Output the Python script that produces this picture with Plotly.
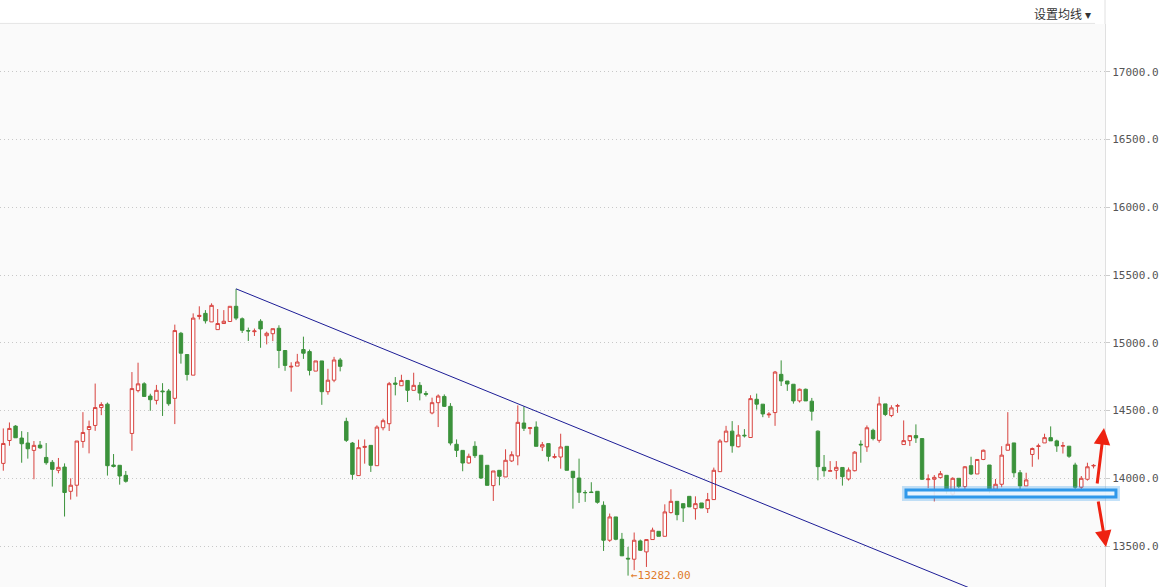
import plotly.graph_objects as go

# daily candles (index = trading day)
open_ = [14110, 14279, 14385, 14297, 14260, 14206, 14245, 14154, 14118, 14059,
         14083, 13904, 13949, 14272, 14360, 14390, 14522, 14547, 14098, 14096,
         14022, 14331, 14647, 14697, 14607, 14575, 14644, 14644, 14590, 15070,
         14913, 14761, 15194, 15217, 15154, 15097, 15142, 15157, 15269, 15177,
         15090, 15082, 15159, 15052, 15067, 15107, 14943, 14821, 14828, 14950,
         14935, 14791, 14866, 14639, 14724, 14873, 14420, 14260, 14020, 14228,
         14243, 14093, 14373, 14403, 14703, 14683, 14722, 14649, 14686, 14626,
         14482, 14558, 14604, 14531, 14251, 14206, 14113, 14236, 14170, 14096,
         13946, 14059, 14010, 14128, 14165, 14408, 14368, 14378, 14231, 14256,
         14155, 14157, 14236, 14052, 14002, 13895, 13899, 13904, 13801, 13543,
         13715, 13550, 13410, 13403, 13538, 13457, 13548, 13609, 13572, 13747,
         13830, 13813, 13867, 13776, 13818, 13776, 13843, 14049, 14270, 14348,
         14233, 14318, 14301, 14583, 14547, 14468, 14485, 14767, 14718, 14694,
         14571, 14657, 14569, 14348, 14081, 14052, 14059, 14080, 13995, 14056,
         14251, 14232, 14354, 14280, 14549, 14463, 14532, 14249, 14278, 14315,
         14293, 13990, 13993, 14005, 14022, 13883, 14000, 13939, 14093, 14032,
         14139, 14098, 13920, 13956, 14207, 14261, 14041, 13944, 14176, 14235,
         14261, 14300, 14276, 14237, 14237, 14098, 13934, 13993, 14091]
high = [14368, 14412, 14392, 14348, 14341, 14275, 14275, 14260, 14135, 14150,
        14110, 14000, 14275, 14488, 14426, 14699, 14561, 14559, 14179, 14096,
        14054, 14784, 14853, 14709, 14624, 14689, 14702, 14659, 15134, 15080,
        14913, 15217, 15269, 15241, 15291, 15249, 15241, 15269, 15398, 15187,
        15112, 15105, 15174, 15082, 15104, 15129, 14943, 14856, 14918, 15045,
        14950, 14866, 14866, 14808, 14896, 14888, 14447, 14268, 14285, 14287,
        14243, 14391, 14440, 14711, 14747, 14764, 14722, 14779, 14710, 14644,
        14595, 14619, 14619, 14555, 14287, 14206, 14182, 14273, 14170, 14096,
        14054, 14059, 14214, 14199, 14538, 14531, 14378, 14420, 14268, 14256,
        14182, 14329, 14236, 14052, 14145, 13912, 13971, 13904, 13830, 13740,
        13715, 13597, 13494, 13600, 13548, 13548, 13636, 13609, 13808, 13919,
        13830, 13813, 13867, 13867, 13818, 13892, 14079, 14289, 14387, 14422,
        14392, 14363, 14613, 14625, 14547, 14488, 14792, 14870, 14718, 14694,
        14662, 14662, 14593, 14353, 14172, 14127, 14127, 14080, 14080, 14200,
        14280, 14390, 14366, 14602, 14549, 14539, 14549, 14427, 14315, 14398,
        14293, 14029, 14024, 14054, 14022, 14007, 14000, 14090, 14159, 14139,
        14212, 14098, 13995, 14237, 14488, 14261, 14061, 14041, 14227, 14256,
        14329, 14383, 14285, 14268, 14237, 14115, 14017, 14115, 14105]
low = [14056, 14240, 14299, 14115, 14145, 13993, 14218, 14100, 13939, 14037,
       13718, 13843, 13865, 14225, 14184, 14350, 14466, 14020, 14080, 13953,
       13968, 14203, 14634, 14604, 14498, 14545, 14460, 14535, 14400, 14846,
       14721, 14761, 15172, 15142, 15154, 15097, 15142, 15157, 15167, 15072,
       15013, 15050, 14963, 14988, 15012, 14813, 14793, 14639, 14828, 14881,
       14759, 14791, 14542, 14617, 14709, 14789, 14268, 13990, 14020, 14108,
       14047, 14093, 14354, 14349, 14612, 14683, 14563, 14649, 14575, 14604,
       14472, 14378, 14526, 14243, 14157, 14052, 14108, 14150, 13995, 13948,
       13833, 13948, 14010, 14120, 14096, 14349, 14324, 14236, 14201, 14125,
       14145, 14071, 14059, 13776, 13818, 13826, 13895, 13813, 13464, 13531,
       13543, 13428, 13282, 13322, 13464, 13346, 13548, 13572, 13572, 13740,
       13690, 13678, 13789, 13695, 13781, 13744, 13843, 14049, 14265, 14189,
       14228, 14301, 14301, 14507, 14451, 14446, 14387, 14681, 14645, 14551,
       14559, 14571, 14426, 13985, 14012, 14052, 13993, 13946, 13983, 14051,
       14115, 14195, 14280, 14263, 14459, 14451, 14483, 14249, 14239, 14261,
       13988, 13927, 13829, 14000, 13885, 13871, 13927, 13920, 14024, 14032,
       14134, 13890, 13902, 13934, 14207, 14007, 13920, 13944, 14085, 14139,
       14261, 14276, 14195, 14183, 14151, 13920, 13920, 13983, 14073]
close = [14257, 14368, 14299, 14255, 14218, 14243, 14225, 14115, 14066, 14081,
         13895, 13949, 14275, 14338, 14382, 14522, 14544, 14093, 14088, 14017,
         13978, 14662, 14697, 14604, 14580, 14649, 14639, 14550, 15090, 14923,
         14766, 15182, 15202, 15162, 15276, 15142, 15159, 15269, 15182, 15092,
         15087, 15087, 15102, 15070, 15104, 14943, 14833, 14826, 14858, 14923,
         14796, 14866, 14639, 14724, 14873, 14826, 14280, 14029, 14226, 14235,
         14096, 14378, 14425, 14698, 14694, 14722, 14649, 14686, 14629, 14620,
         14558, 14607, 14531, 14260, 14206, 14113, 14162, 14167, 14002, 13948,
         14054, 14015, 14133, 14174, 14413, 14369, 14373, 14236, 14248, 14162,
         14160, 14231, 14059, 14005, 13897, 13894, 13895, 13823, 13543, 13715,
         13550, 13428, 13405, 13543, 13469, 13548, 13617, 13572, 13752, 13830,
         13732, 13781, 13789, 13813, 13781, 13843, 14059, 14275, 14348, 14240,
         14319, 14314, 14588, 14547, 14475, 14473, 14784, 14718, 14696, 14571,
         14657, 14571, 14495, 14086, 14056, 14056, 14081, 14012, 14061, 14193,
         14247, 14373, 14293, 14549, 14471, 14520, 14536, 14278, 14315, 14298,
         13993, 13995, 14007, 14034, 13907, 14000, 13939, 14085, 14032, 14139,
         14207, 13910, 13956, 14171, 14251, 14041, 13944, 13988, 14220, 14239,
         14300, 14276, 14239, 14241, 14163, 13934, 14000, 14085, 14095]
days = list(range(len(close)))

# hand drawn trend line (from the 15398 top, running down to the right)
trend_x = [38, 178]
trend_y = [15398, 12818]

low_day = 102
low_label = "←13282.00"
y_ticks = [13500, 14000, 14500, 15000, 15500, 16000, 16500, 17000]

red = "#d8433f"
green = "#3b923b"

fig = go.Figure()
fig.add_trace(go.Candlestick(
    x=days, open=open_, high=high, low=low, close=close,
    increasing=dict(line=dict(color=red, width=1), fillcolor="#ffffff"),
    decreasing=dict(line=dict(color=green, width=1), fillcolor=green),
    whiskerwidth=0, showlegend=False, hoverinfo="skip"))
fig.add_trace(go.Scatter(x=trend_x, y=trend_y, mode="lines",
                         line=dict(color="#1c1c96", width=1),
                         showlegend=False, hoverinfo="skip"))

fig.add_annotation(x=low_day, y=min(low), text=low_label, showarrow=False,
                   xanchor="left", yanchor="middle", xshift=1,
                   font=dict(family="DejaVu Sans Mono", size=11, color="#e07a2a"))
fig.add_annotation(xref="paper", yref="paper", x=0.989, y=1.0195,
                   text="设置均线 ▾", showarrow=False, xanchor="right", yanchor="middle",
                   font=dict(family="Noto Sans CJK SC", size=12, color="#333333"))

# red arrows (up / down) next to the support box
fig.add_annotation(xref="paper", yref="paper", x=0.9991, y=0.2824, ax=-7, ay=57,
                   text="", showarrow=True, arrowhead=2, arrowsize=1.1,
                   arrowwidth=3, arrowcolor="#ee2211")
fig.add_annotation(xref="paper", yref="paper", x=1.0009, y=0.071, ax=-8, ay=-47,
                   text="", showarrow=True, arrowhead=2, arrowsize=1.1,
                   arrowwidth=3, arrowcolor="#ee2211")

# blue support box
fig.add_shape(type="rect", xref="paper", yref="paper", x0=0.8199, x1=1.0099,
              y0=0.1599, y1=0.1723, line=dict(color="rgba(60,160,235,0.3)", width=8),
              fillcolor="rgba(0,0,0,0)", layer="above")
fig.add_shape(type="rect", xref="paper", yref="paper", x0=0.8199, x1=1.0099,
              y0=0.1599, y1=0.1723, line=dict(color="#2f98ea", width=3),
              fillcolor="rgba(240,248,255,0.85)", layer="above")

# header border and axis line above the plot
fig.add_shape(type="line", xref="paper", yref="paper", x0=0, x1=0.991, y0=1.001, y1=1.001,
              line=dict(color="#e6e6e6", width=1))
fig.add_shape(type="line", xref="paper", yref="paper", x0=1, x1=1, y0=1, y1=1.05,
              line=dict(color="#e0e0e0", width=1))

fig.update_layout(
    width=1164, height=587,
    margin=dict(l=0, r=59, t=24, b=0),
    paper_bgcolor="#ffffff", plot_bgcolor="#fafafa",
    boxgap=0.2,
    xaxis=dict(range=[-0.54, 179.87], visible=False, rangeslider=dict(visible=False)),
    yaxis=dict(range=[13198, 17352], side="right", tickvals=y_ticks, tickformat=".1f",
               showgrid=True, gridcolor="#c8c8c8", griddash="1px,3px", zeroline=False,
               showline=True, linecolor="#e0e0e0", ticks="outside", ticklen=4,
               tickcolor="#cccccc",
               tickfont=dict(family="DejaVu Sans Mono", size=11, color="#555555")),
)

fig.write_html("out.html", config={"displayModeBar": False},
               post_script="document.body.style.margin='0';")
